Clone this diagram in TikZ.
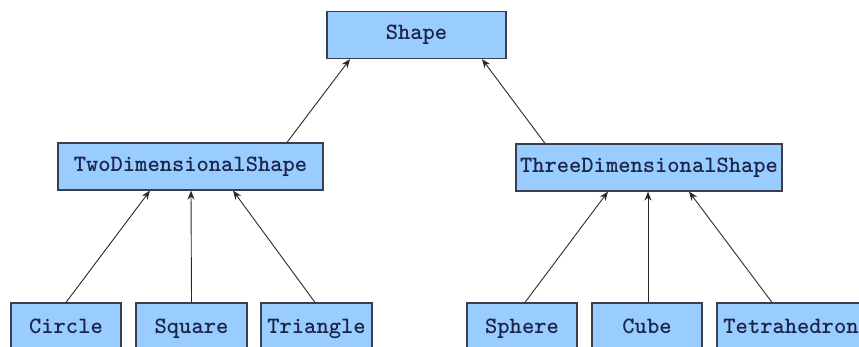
\documentclass[tikz,border=0pt]{standalone}
\usepackage{fontspec}
\usetikzlibrary{arrows.meta}
\definecolor{boxfill}{HTML}{99CCFF}
\definecolor{boxline}{HTML}{3A3F4F}
\definecolor{classtext}{HTML}{1C2448}
\definecolor{edge}{HTML}{2A2A2A}
\tikzset{
  cls/.style={rectangle, draw=boxline, fill=boxfill, line width=1.2pt,
    text=classtext, font=\ttfamily\bfseries\fontsize{23.4}{26}\selectfont,
    minimum height=47pt, inner sep=0pt, text height=14pt, text depth=4pt},
  inh/.style={draw=edge, line width=0.9pt, -{Stealth[length=9pt,width=7pt]}}
}
\begin{document}
\begin{tikzpicture}[x=1pt, y=-1pt]
          \useasboundingbox (0,0) rectangle (859,347);
          \fill[white] (0,0) rectangle (859,347);
          \clip (0,0) rectangle (859,347);

          \node[cls, minimum width=179pt] (shape) at (416.5,35) {Shape};
          \node[cls, minimum width=265pt] (twod) at (190.5,166.5) {TwoDimensionalShape};
          \node[cls, minimum width=266pt] (threed) at (649,167.5) {ThreeDimensionalShape};

          \node[cls, minimum width=110pt, minimum height=50pt] (circle) at (66,328) {Circle};
          \node[cls, minimum width=111pt, minimum height=50pt] (square) at (191.5,328) {Square};
          \node[cls, minimum width=111pt, minimum height=50pt] (triangle) at (316.5,328) {Triangle};
          \node[cls, minimum width=110pt, minimum height=50pt] (sphere) at (522,328) {Sphere};
          \node[cls, minimum width=110pt, minimum height=50pt] (cube) at (647,328) {Cube};
          \node[cls, minimum width=148pt, minimum height=50pt] (tetra) at (791,328) {Tetrahedron};

          \draw[inh] ([xshift=96.5pt]twod.north) -- ([xshift=-66.5pt]shape.south);
          \draw[inh] ([xshift=-104pt]threed.north) -- ([xshift=65.5pt]shape.south);

          \draw[inh] (circle.north) -- ([xshift=-40.5pt]twod.south);
          \draw[inh] (square.north) -- ([xshift=0.5pt]twod.south);
          \draw[inh] ([xshift=-1.5pt]triangle.north) -- ([xshift=42.5pt]twod.south);

          \draw[inh] ([xshift=3pt]sphere.north) -- ([xshift=-41pt]threed.south);
          \draw[inh] ([xshift=1pt]cube.north) -- ([xshift=-1pt]threed.south);
          \draw[inh] ([xshift=-19pt]tetra.north) -- ([xshift=40pt]threed.south);
        \end{tikzpicture}
\end{document}
